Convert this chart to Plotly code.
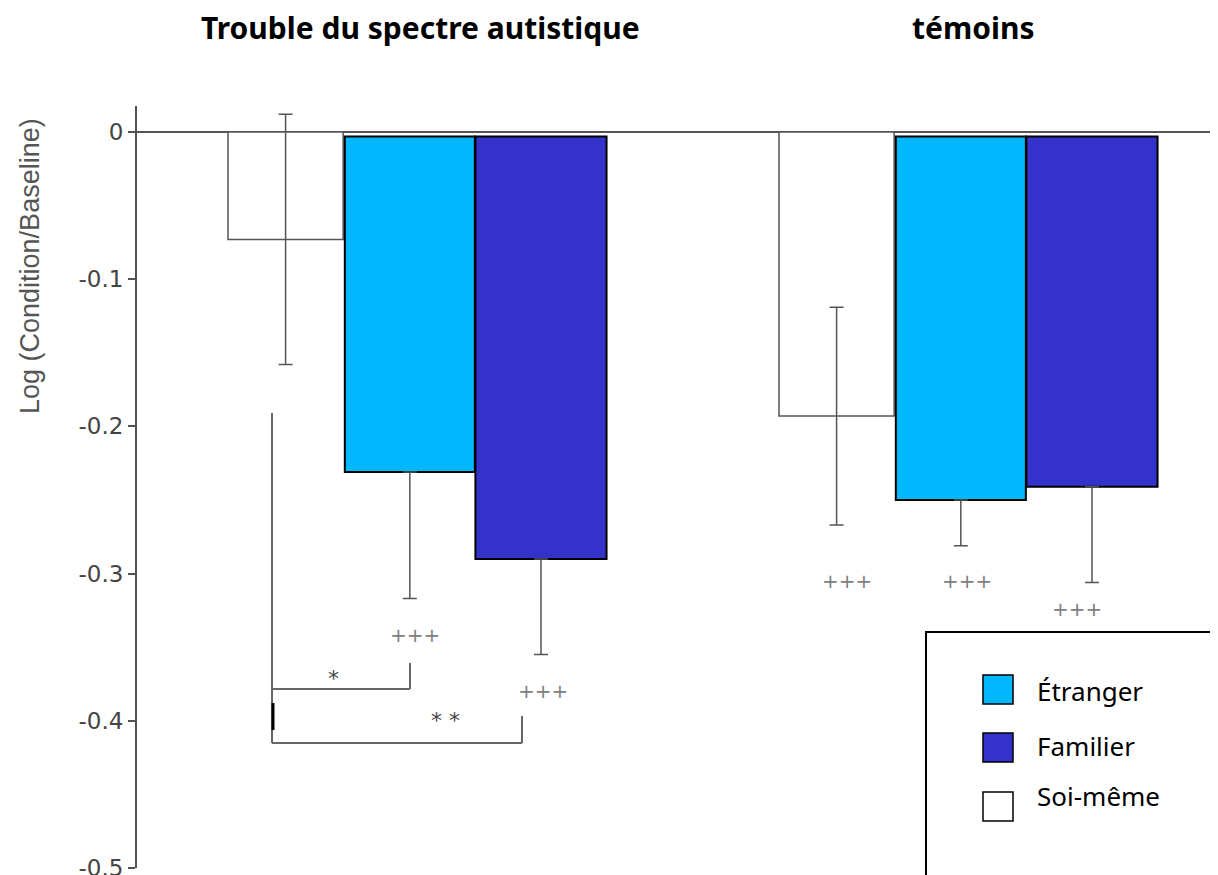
import plotly.graph_objects as go

# groups and conditions
groups = ["Trouble du spectre autistique", "témoins"]
conditions = ["Soi-même", "Étranger", "Familier"]
legend_order = ["Étranger", "Familier", "Soi-même"]

# mean log(condition/baseline) per group
soi_meme = [-0.073, -0.193]
etranger = [-0.231, -0.250]
familier = [-0.290, -0.241]

# error bar lengths (Soi-même symmetric, others only downwards visible)
soi_meme_err = [0.085, 0.074]
etranger_err = [0.086, 0.031]
familier_err = [0.065, 0.065]

# significance labels under the bars
plus_labels = ["+++", "+++", "+++", "+++", "+++"]
plus_x = [-0.004, 0.229, 0.780, 0.998, 1.198]
plus_y = [-0.342, -0.380, -0.305, -0.305, -0.324]

y_ticks = [0, -0.1, -0.2, -0.3, -0.4, -0.5]
y_ticktext = ["0", "-0.1", "-0.2", "-0.3", "-0.4", "-0.5"]

colors = {"Soi-même": "white", "Étranger": "#00B8FF", "Familier": "#3333CC"}

# the page body has an 8px margin, so the figure is drawn 8px in from the window corner
PAGE_PAD = 8
W, H = 1218 - PAGE_PAD, 875 - PAGE_PAD
ML, MR, MT, MB = 137 - PAGE_PAD, 0, 106 - PAGE_PAD, 7
X_CENTER_PX, X_UNIT = 417, 551   # group 0 centre / px per group step (window px)
Y_ZERO_PX, Y_UNIT = 132, 1472    # zero line / px per unit (window px)


def dx(px):
    return (px - X_CENTER_PX) / X_UNIT


def dy(py):
    return (Y_ZERO_PX - py) / Y_UNIT


def paper_x(px):
    return (px - PAGE_PAD - ML) / (W - ML - MR)


def paper_y(py):
    return (H - MB - (py - PAGE_PAD)) / (H - MT - MB)


x_pos = [0, 1]
BASE = -0.003
err_style = dict(color="#555555", thickness=1.5, width=7)

fig = go.Figure()

fig.add_trace(go.Bar(
    x=x_pos, y=soi_meme, offset=-0.343, width=0.209,
    marker=dict(color=colors["Soi-même"], line=dict(color="#555555", width=1.5)),
    error_y=dict(type="data", array=soi_meme_err, **err_style),
    showlegend=False,
))
fig.add_trace(go.Bar(
    x=x_pos, y=[v - BASE for v in etranger], base=BASE, offset=-0.131, width=0.236,
    marker=dict(color=colors["Étranger"], line=dict(color="black", width=2)),
    error_y=dict(type="data", symmetric=False, array=[0, 0], arrayminus=etranger_err, **err_style),
    showlegend=False,
))
fig.add_trace(go.Bar(
    x=x_pos, y=[v - BASE for v in familier], base=BASE, offset=0.106, width=0.238,
    marker=dict(color=colors["Familier"], line=dict(color="black", width=2)),
    error_y=dict(type="data", symmetric=False, array=[0, 0], arrayminus=familier_err, **err_style),
    showlegend=False,
))

shapes = []
br = dict(type="line", xref="x", yref="y", line=dict(color="#666666", width=2))
# comparison brackets
shapes.append(dict(br, x0=dx(272), x1=dx(272), y0=dy(413), y1=dy(743)))
shapes.append(dict(br, x0=dx(272), x1=dx(410), y0=dy(689), y1=dy(689)))
shapes.append(dict(br, x0=dx(410), x1=dx(410), y0=dy(663), y1=dy(689)))
shapes.append(dict(br, x0=dx(272), x1=dx(522), y0=dy(743), y1=dy(743)))
shapes.append(dict(br, x0=dx(522), x1=dx(522), y0=dy(716), y1=dy(743)))
shapes.append(dict(type="line", xref="x", yref="y", x0=dx(273), x1=dx(273),
                   y0=dy(703), y1=dy(730), line=dict(color="black", width=3)))

# legend box
shapes.append(dict(type="rect", xref="paper", yref="paper",
                   x0=paper_x(926), x1=paper_x(1240), y0=paper_y(900), y1=paper_y(632),
                   line=dict(color="black", width=2), fillcolor="white"))

annotations = []
swatch_top = [675, 733, 792]
text_mid = [691, 746, 796]
for name, top, mid in zip(legend_order, swatch_top, text_mid):
    shapes.append(dict(type="rect", xref="paper", yref="paper",
                       x0=paper_x(983), x1=paper_x(1013), y0=paper_y(top + 29), y1=paper_y(top),
                       line=dict(color="black", width=1.5), fillcolor=colors[name]))
    annotations.append(dict(xref="paper", yref="paper", x=paper_x(1035), y=paper_y(mid),
                            text=name, showarrow=False, xanchor="left", yanchor="middle",
                            font=dict(family="Noto Sans", size=26, color="black")))

for t, x, y in zip(plus_labels, plus_x, plus_y):
    annotations.append(dict(x=x, y=y, text=t, showarrow=False, xanchor="center",
                            font=dict(family="DejaVu Sans", size=20, color="#808080")))

annotations.append(dict(x=dx(333), y=dy(678), text="*", showarrow=False, xanchor="center",
                        font=dict(family="DejaVu Sans", size=22, color="#444444")))
annotations.append(dict(x=dx(445), y=dy(720), text="* *", showarrow=False, xanchor="center",
                        font=dict(family="DejaVu Sans", size=22, color="#444444")))

# panel titles
for g, cx in zip(groups, [420, 973]):
    annotations.append(dict(xref="paper", yref="paper", x=paper_x(cx), y=paper_y(27),
                            text="<b>" + g + "</b>", showarrow=False,
                            xanchor="center", yanchor="middle",
                            font=dict(family="Noto Sans", size=30, color="black")))

annotations.append(dict(xref="paper", yref="paper", x=paper_x(30), y=paper_y(266),
                        text="Log (Condition/Baseline)", textangle=-90, showarrow=False,
                        xanchor="center", yanchor="middle",
                        font=dict(family="Liberation Sans", size=27, color="#555555")))

fig.update_layout(
    width=W, height=H,
    margin=dict(l=ML, r=MR, t=MT, b=MB),
    plot_bgcolor="white", paper_bgcolor="white",
    barmode="overlay",
    shapes=shapes, annotations=annotations,
    xaxis=dict(range=[dx(137), dx(1218)], visible=False, fixedrange=True),
    yaxis=dict(
        range=[-0.5, dy(106)],
        tickvals=y_ticks, ticktext=y_ticktext,
        ticks="outside", ticklen=7, tickcolor="#555555", tickwidth=1.5,
        tickfont=dict(family="DejaVu Sans", size=23, color="#444444"),
        ticklabeloverflow="allow",
        showline=True, linecolor="#555555", linewidth=2,
        showgrid=False, automargin=False,
        zeroline=True, zerolinecolor="#555555", zerolinewidth=2,
    ),
)

fig.write_html("out.html")
